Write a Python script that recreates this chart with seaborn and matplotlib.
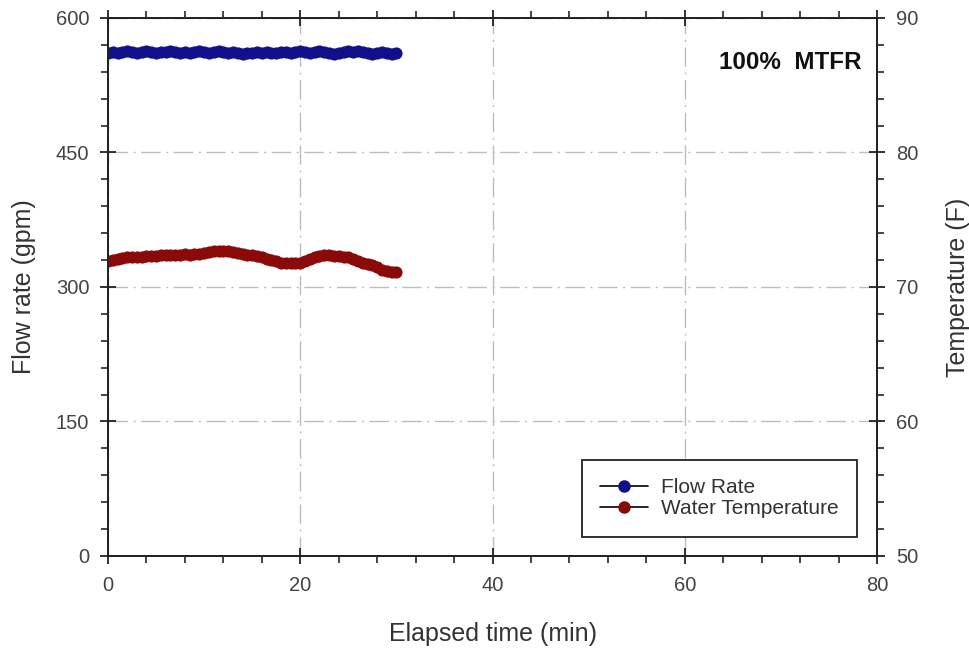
import numpy as np
import pandas as pd
import matplotlib
matplotlib.use("Agg")
import matplotlib.pyplot as plt
from matplotlib.lines import Line2D
from matplotlib.ticker import MultipleLocator
import seaborn as sns

# ---- data ----
elapsed_min = [i * 0.5 for i in range(61)]
flow_gpm = [561, 562, 561, 562, 563, 562, 561, 562, 563, 562,
            561, 562, 562, 563, 562, 561, 562, 561, 562, 563,
            562, 561, 562, 563, 562, 561, 562, 561, 560, 561,
            561, 562, 561, 562, 561, 561, 562, 562, 561, 562,
            563, 562, 561, 562, 563, 562, 561, 560, 561, 562,
            563, 562, 563, 562, 561, 560, 561, 562, 561, 560, 561]
water_temp_f = [71.9, 72.0, 72.1, 72.15, 72.2, 72.2, 72.25, 72.25, 72.3, 72.3,
                72.3, 72.35, 72.35, 72.4, 72.4, 72.4, 72.45, 72.4, 72.45, 72.45,
                72.5, 72.6, 72.65, 72.7, 72.65, 72.7, 72.6, 72.5, 72.45, 72.4,
                72.35, 72.3, 72.2, 72.1, 72.0, 71.9, 71.8, 71.8, 71.75, 71.8,
                71.8, 71.95, 72.1, 72.2, 72.3, 72.35, 72.35, 72.3, 72.3, 72.25,
                72.2, 72.1, 71.9, 71.8, 71.7, 71.6, 71.5, 71.3, 71.2, 71.15, 71.15]
series_labels = ["Flow Rate", "Water Temperature"]
annotation = "100%  MTFR"

df = pd.DataFrame({"t": elapsed_min, "flow": flow_gpm, "temp": water_temp_f})

sns.set_theme(style="white")
plt.rcParams["font.family"] = ["Liberation Sans", "DejaVu Sans"]

FLOW_C = "#10108a"
TEMP_C = "#8a0a0a"
GRID_C = "#bdbdbd"

fig = plt.figure(figsize=(9.7, 6.49), dpi=100)
ax = fig.add_axes([0.1113, 0.1433, 0.7929, 0.829])
ax2 = ax.twinx()

sns.lineplot(data=df, x="t", y="flow", ax=ax, color=FLOW_C, marker="o",
             markersize=8, markeredgecolor=FLOW_C, linewidth=1.2, legend=False)
sns.lineplot(data=df, x="t", y="temp", ax=ax2, color=TEMP_C, marker="o",
             markersize=8, markeredgecolor=TEMP_C, linewidth=1.2, legend=False)

ax.set_xlim(0, 80)
ax.set_ylim(0, 600)
ax2.set_ylim(50, 90)

ax.xaxis.set_major_locator(MultipleLocator(20))
ax.xaxis.set_minor_locator(MultipleLocator(4))
ax.yaxis.set_major_locator(MultipleLocator(150))
ax.yaxis.set_minor_locator(MultipleLocator(30))
ax2.yaxis.set_major_locator(MultipleLocator(10))
ax2.yaxis.set_minor_locator(MultipleLocator(2))

ax.grid(True, which="major", color=GRID_C, linestyle=(0, (14, 4, 1.5, 4)), linewidth=1.0)
ax.set_axisbelow(True)

for a in (ax, ax2):
    for s in a.spines.values():
        s.set_color("#222222")
        s.set_linewidth(1.3)

TS = 14.5
ax.tick_params(axis="x", which="major", direction="inout", length=11, width=1.3,
               top=True, bottom=True, labelsize=TS, colors="#222222", pad=9)
ax.tick_params(axis="x", which="minor", direction="out", length=5, width=1.2,
               top=True, bottom=True)
ax.tick_params(axis="y", which="major", direction="inout", length=11, width=1.3,
               left=True, right=False, labelsize=TS, colors="#222222", pad=8)
ax.tick_params(axis="y", which="minor", direction="out", length=5, width=1.2,
               left=True, right=False)
ax2.tick_params(axis="y", which="major", direction="inout", length=11, width=1.3,
                right=True, left=False, labelsize=TS, colors="#222222", pad=8)
ax2.tick_params(axis="y", which="minor", direction="out", length=5, width=1.2,
                right=True, left=False)
for lab in ax.get_xticklabels() + ax.get_yticklabels() + ax2.get_yticklabels():
    lab.set_color("#444444")

ax.set_xlabel("Elapsed time (min)", fontsize=18, color="#333333", labelpad=19)
ax.set_ylabel("Flow rate (gpm)", fontsize=18, color="#333333", labelpad=14)
ax2.set_ylabel("Temperature (F)", fontsize=18, color="#333333", labelpad=20)

ax.text(0.98, 0.918, annotation, transform=ax.transAxes, ha="right", va="center",
        fontsize=17.5, fontweight="bold", color="#111111")

handles = [
    Line2D([0], [0], color="black", linewidth=1.2, marker="o", markersize=8,
           markerfacecolor=FLOW_C, markeredgecolor=FLOW_C),
    Line2D([0], [0], color="black", linewidth=1.2, marker="o", markersize=8,
           markerfacecolor=TEMP_C, markeredgecolor=TEMP_C),
]
leg = ax2.legend(handles, series_labels, loc="lower right",
                 bbox_to_anchor=(0.974, 0.035), fontsize=15, frameon=True,
                 fancybox=False, edgecolor="#222222", framealpha=1,
                 borderpad=0.9, handlelength=2.3, handletextpad=0.6,
                 labelspacing=0.1, borderaxespad=0)
leg.get_frame().set_linewidth(1.3)
for t in leg.get_texts():
    t.set_color("#333333")

fig.savefig("out.png", dpi=100)
